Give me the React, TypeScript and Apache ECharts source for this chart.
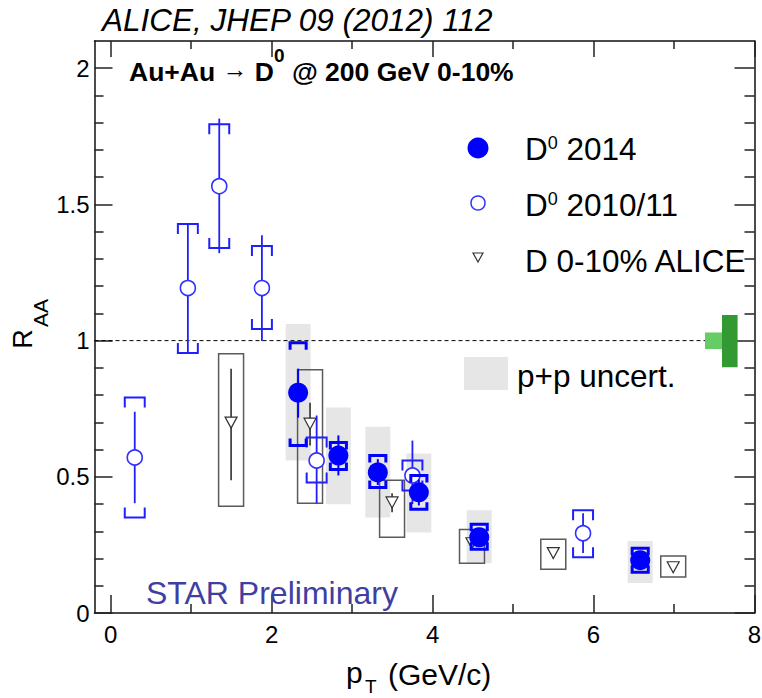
import React, { useEffect, useRef } from 'react';
import * as echarts from 'echarts';

// ---------- axes ----------
const xMin = -0.2;
const xMax = 8;
const yMin = 0;
const yMax = 2.1;
const xMajor = [0, 2, 4, 6, 8];
const xMinor = [1, 3, 5, 7];
const yMajor = [0, 0.5, 1, 1.5, 2];
const yMinor = [0.1, 0.2, 0.3, 0.4, 0.6, 0.7, 0.8, 0.9, 1.1, 1.2, 1.3, 1.4, 1.6, 1.7, 1.8, 1.9];

// ---------- D0 2014 (filled) ----------
const d14X = [2.33, 2.83, 3.32, 3.83, 4.58, 6.58];
const d14Y = [0.809, 0.578, 0.516, 0.443, 0.278, 0.194];
const d14StatLo = [0.717, 0.505, 0.47, 0.395, 0.25, 0.17];
const d14StatHi = [0.897, 0.652, 0.565, 0.49, 0.31, 0.22];
const d14SysLo = [0.615, 0.527, 0.461, 0.381, 0.234, 0.15];
const d14SysHi = [0.992, 0.626, 0.578, 0.505, 0.326, 0.238];
const ppLo = [0.56, 0.399, 0.351, 0.296, 0.183, 0.11];
const ppHi = [1.061, 0.754, 0.684, 0.586, 0.377, 0.264];

// ---------- D0 2010/11 (open) ----------
const d10X = [0.30, 0.96, 1.35, 1.88, 2.56, 3.75, 5.87];
const d10Y = [0.571, 1.193, 1.567, 1.193, 0.56, 0.505, 0.293];
const d10StatLo = [0.403, 0.955, 1.321, 0.999, 0.403, 0.40, 0.22];
const d10StatHi = [0.739, 1.428, 1.815, 1.387, 0.725, 0.633, 0.366];
const d10SysLo = [0.351, 0.955, 1.34, 1.043, 0.479, 0.45, 0.205];
const d10SysHi = [0.791, 1.428, 1.794, 1.347, 0.644, 0.56, 0.377];

// ---------- D 0-10% ALICE ----------
const alX = [1.497, 2.478, 3.497, 4.49, 5.5, 6.99];
const alY = [0.699, 0.695, 0.406, 0.256, 0.22, 0.168];
const alStatLo = [0.487, 0.615, 0.37, 0.235, 0.2, 0.15];
const alStatHi = [0.897, 0.772, 0.44, 0.275, 0.24, 0.185];
const alSysLo = [0.392, 0.403, 0.278, 0.183, 0.161, 0.132];
const alSysHi = [0.952, 0.893, 0.487, 0.307, 0.271, 0.209];

// ---------- normalisation uncertainty at unity ----------
const normX0 = [7.385, 7.596];
const normX1 = [7.596, 7.79];
const normLo = [0.969, 0.902];
const normHi = [1.03, 1.094];
const normColors = ['#66cc66', '#339933'];
const unityLine = [[xMin, 1], [7.385, 1]];

const BLUE = '#0000ff';
const OBLUE = '#2020ff';
const FONT = 'Liberation Sans';

const statRender = (color: string, lw: number) => (params: any, api: any) => {
  const x = api.value(0);
  const p1 = api.coord([x, api.value(1)]);
  const p2 = api.coord([x, api.value(2)]);
  return {
    type: 'line',
    shape: { x1: p1[0], y1: p1[1], x2: p2[0], y2: p2[1] },
    style: { stroke: color, lineWidth: lw },
  };
};

const boxRender = (hw: number, stroke: string, fill: string, lw: number) => (params: any, api: any) => {
  const x = api.value(0);
  const a = api.coord([x - hw, api.value(2)]);
  const b = api.coord([x + hw, api.value(1)]);
  return {
    type: 'rect',
    shape: { x: a[0], y: a[1], width: b[0] - a[0], height: b[1] - a[1] },
    style: { fill, stroke, lineWidth: lw },
  };
};

const bracketRender = (hw: number, armMax: number, color: string, lw: number) => (params: any, api: any) => {
  const x = api.value(0);
  const lo = api.value(1);
  const hi = api.value(2);
  const tl = api.coord([x - hw, hi]);
  const tr = api.coord([x + hw, hi]);
  const bl = api.coord([x - hw, lo]);
  const br = api.coord([x + hw, lo]);
  const arm = Math.min(armMax, (bl[1] - tl[1]) / 2);
  const st = { stroke: color, lineWidth: lw, fill: 'none' };
  return {
    type: 'group',
    children: [
      { type: 'polyline', shape: { points: [[tl[0], tl[1] + arm], tl, tr, [tr[0], tr[1] + arm]] }, style: st },
      { type: 'polyline', shape: { points: [[bl[0], bl[1] - arm], bl, br, [br[0], br[1] - arm]] }, style: st },
    ],
  };
};

const normRender = (params: any, api: any) => {
  const a = api.coord([api.value(0), api.value(3)]);
  const b = api.coord([api.value(1), api.value(2)]);
  return {
    type: 'rect',
    shape: { x: a[0], y: a[1], width: b[0] - a[0], height: b[1] - a[1] },
    style: { fill: normColors[params.dataIndex], stroke: 'none' },
  };
};

const tickStyle = { color: '#222', width: 1.5 };

function xAxis(position: string, vals: number[], len: number, label: boolean, line: boolean) {
  return {
    type: 'value', min: xMin, max: xMax, position,
    axisLine: { show: line, onZero: false, lineStyle: { color: '#111', width: 1.5 } },
    axisTick: { show: true, inside: true, length: len, customValues: vals, lineStyle: tickStyle },
    axisLabel: { show: label, customValues: vals, fontSize: 24, color: '#000', fontFamily: FONT, margin: 9 },
    splitLine: { show: false },
  };
}
function yAxis(position: string, vals: number[], len: number, label: boolean, line: boolean) {
  return {
    type: 'value', min: yMin, max: yMax, position,
    axisLine: { show: line, onZero: false, lineStyle: { color: '#111', width: 1.5 } },
    axisTick: { show: true, inside: true, length: len, customValues: vals, lineStyle: tickStyle },
    axisLabel: { show: label, customValues: vals, fontSize: 24, color: '#000', fontFamily: FONT, margin: 5 },
    splitLine: { show: false },
  };
}

const mid = { align: 'left', verticalAlign: 'middle', textAlign: 'left', textVerticalAlign: 'middle' };

export default function App() {
  const ref = useRef<HTMLDivElement>(null);
  useEffect(() => {
    const chart = echarts.init(ref.current!, null, { renderer: 'svg' });
    const option: any = {
      animation: false,
      backgroundColor: '#fff',
      textStyle: { fontFamily: FONT },
      grid: { left: 94.5, top: 41, right: 7.5, bottom: 85, containLabel: false, outerBoundsMode: 'none' },
      xAxis: [
        xAxis('bottom', xMajor, 18, true, true),
        xAxis('bottom', xMinor, 9, false, false),
        xAxis('top', xMajor, 16, false, true),
        xAxis('top', xMinor, 8, false, false),
      ],
      yAxis: [
        yAxis('left', yMajor, 18, true, true),
        yAxis('left', yMinor, 9, false, false),
        yAxis('right', yMajor, 20, false, true),
        yAxis('right', yMinor, 10, false, false),
      ],
      series: [
        {
          type: 'custom', name: 'pp', z: 1, renderItem: boxRender(0.155, 'none', '#e6e6e6', 0),
          data: d14X.map((x, i) => [x, ppLo[i], ppHi[i]]),
        },
        {
          type: 'custom', name: 'norm', z: 1, renderItem: normRender,
          data: normX0.map((x, i) => [x, normX1[i], normLo[i], normHi[i]]),
        },
        {
          type: 'line', name: 'unity', z: 2, symbol: 'none', data: unityLine,
          lineStyle: { color: '#000', width: 1, type: [4, 3] },
        },
        {
          type: 'custom', name: 'aliceSys', z: 3, renderItem: boxRender(0.155, '#5a5a5a', 'none', 1.5),
          data: alX.map((x, i) => [x, alSysLo[i], alSysHi[i]]),
        },
        {
          type: 'custom', name: 'aliceStat', z: 3, renderItem: statRender('#222', 1.5),
          data: alX.map((x, i) => [x, alStatLo[i], alStatHi[i]]),
        },
        {
          type: 'scatter', name: 'D 0-10% ALICE', z: 4,
          symbol: 'path://M0,0L12,0L6,11Z', symbolSize: [12, 11],
          itemStyle: { color: '#fff', borderColor: '#333', borderWidth: 1.2, opacity: 1 },
          data: alX.map((x, i) => [x, alY[i]]),
        },
        {
          type: 'custom', name: 'd10Sys', z: 5, renderItem: bracketRender(0.124, 10, OBLUE, 2),
          data: d10X.map((x, i) => [x, d10SysLo[i], d10SysHi[i]]),
        },
        {
          type: 'custom', name: 'd10Stat', z: 5, renderItem: statRender(OBLUE, 1.8),
          data: d10X.map((x, i) => [x, d10StatLo[i], d10StatHi[i]]),
        },
        {
          type: 'scatter', name: 'D0 2010/11', z: 6, symbol: 'circle', symbolSize: 15,
          itemStyle: { color: '#fff', borderColor: '#3030ff', borderWidth: 1.6, opacity: 1 },
          data: d10X.map((x, i) => [x, d10Y[i]]),
        },
        {
          type: 'custom', name: 'd14Sys', z: 7, renderItem: bracketRender(0.1, 7, BLUE, 3),
          data: d14X.map((x, i) => [x, d14SysLo[i], d14SysHi[i]]),
        },
        {
          type: 'custom', name: 'd14Stat', z: 7, renderItem: statRender(BLUE, 2),
          data: d14X.map((x, i) => [x, d14StatLo[i], d14StatHi[i]]),
        },
        {
          type: 'scatter', name: 'D0 2014', z: 8, symbol: 'circle', symbolSize: 20,
          itemStyle: { color: BLUE, opacity: 1 },
          data: d14X.map((x, i) => [x, d14Y[i]]),
        },
      ],
      graphic: [
        {
          type: 'text', x: 102, y: 20, z: 10,
          style: { text: 'ALICE, JHEP 09 (2012) 112', fontSize: 31.5, fontStyle: 'italic', fontFamily: FONT, fill: '#000', ...mid },
        },
        {
          type: 'text', x: 129, y: 65.5, z: 10,
          style: {
            text: '{b|Au+Au }{ar|→}{b| D}{s|0}{b| @ 200 GeV 0-10%}',
            fill: '#000', ...mid,
            rich: {
              b: { fontSize: 26.5, fontWeight: 'bold', fontFamily: FONT, fill: '#000', lineHeight: 26, verticalAlign: 'bottom' },
              ar: { fontSize: 25, fontFamily: FONT, fill: '#000', lineHeight: 26, verticalAlign: 'bottom', padding: [0, 0, 4, 0] },
              s: { fontSize: 19, fontWeight: 'bold', fontFamily: FONT, fill: '#000', lineHeight: 40, verticalAlign: 'top', padding: [0, 0, 21, 0] },
            },
          },
        },
        // legend
        { type: 'circle', shape: { cx: 478, cy: 148, r: 10.5 }, style: { fill: BLUE }, z: 10 },
        { type: 'circle', shape: { cx: 478, cy: 203, r: 7 }, style: { fill: '#fff', stroke: '#3030ff', lineWidth: 1.5 }, z: 10 },
        { type: 'polygon', shape: { points: [[473, 253], [483, 253], [478, 262]] }, style: { fill: '#fff', stroke: '#333', lineWidth: 1.2 }, z: 10 },
        { type: 'rect', shape: { x: 464, y: 357, width: 44, height: 33 }, style: { fill: '#e6e6e6' }, z: 10 },
        ...[
          { x: 525, y: 149, t: '{a|D}{s|0}{a| 2014}' },
          { x: 525, y: 205, t: '{a|D}{s|0}{a| 2010/11}' },
          { x: 525, y: 261, t: '{a|D 0-10% ALICE}' },
          { x: 517, y: 376, t: '{a|p+p uncert.}' },
        ].map((o) => ({
          type: 'text', x: o.x, y: o.y, z: 10,
          style: {
            text: o.t, ...mid,
            rich: {
              a: { fontSize: 31.5, fontFamily: FONT, fill: '#000', lineHeight: 31, verticalAlign: 'bottom' },
              s: { fontSize: 18, fontFamily: FONT, fill: '#000', lineHeight: 18, verticalAlign: 'top', padding: [0, 0, 12, 0] },
            },
          },
        })),
        {
          type: 'text', x: 146, y: 593, z: 10,
          style: { text: 'STAR Preliminary', fontSize: 32, fontFamily: FONT, fill: '#3f3fa3', ...mid },
        },
        // axis titles
        {
          type: 'text', x: 22.5, y: 339, rotation: Math.PI / 2, z: 10,
          style: { text: 'R', fontSize: 27, fontFamily: FONT, fill: '#000', align: 'center', verticalAlign: 'middle', textAlign: 'center', textVerticalAlign: 'middle' },
        },
        {
          type: 'text', x: 40, y: 313, rotation: Math.PI / 2, z: 10,
          style: { text: 'AA', fontSize: 21, fontFamily: FONT, fill: '#000', align: 'center', verticalAlign: 'middle', textAlign: 'center', textVerticalAlign: 'middle' },
        },
        {
          type: 'text', x: 346, y: 672, z: 10,
          style: { text: 'p', fontSize: 30, fontFamily: FONT, fill: '#000', ...mid },
        },
        {
          type: 'text', x: 365, y: 686, z: 10,
          style: { text: 'T', fontSize: 19, fontFamily: FONT, fill: '#000', ...mid },
        },
        {
          type: 'text', x: 388, y: 674, z: 10,
          style: { text: '(GeV/c)', fontSize: 30, fontFamily: FONT, fill: '#000', ...mid },
        },
      ],
    };
    chart.setOption(option);
    return () => chart.dispose();
  }, []);
  return (
    <div
      ref={ref}
      style={{ position: 'fixed', left: 0, top: 0, width: 762, height: 698, background: '#fff' }}
    />
  );
}
